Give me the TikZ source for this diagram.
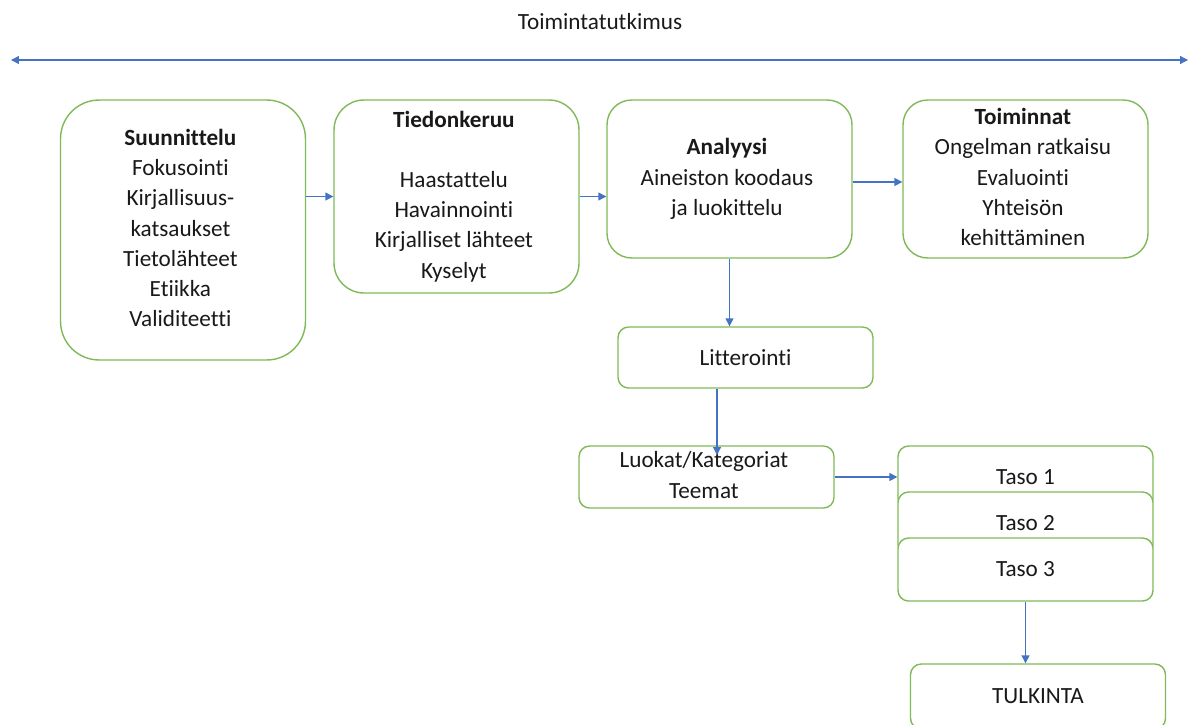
\documentclass[tikz,border=0pt]{standalone}
\usepackage{fontspec}
\setmainfont{Carlito}[Ligatures=NoCommon]
\usepackage{xcolor}
\usepackage{tikz}
\usetikzlibrary{arrows.meta, positioning, calc}
\definecolor{boxgreen}{RGB}{128, 186, 88}
\definecolor{flowblue}{RGB}{68, 114, 196}
\definecolor{textdark}{RGB}{25, 25, 25}

\tikzset{
    stage/.style={draw=boxgreen, fill=white, line width=0.8pt, text=textdark,
        minimum width=4.9cm, align=center, inner sep=0pt,
        font=\fontsize{13.2}{17.2}\selectfont},
    smallbox/.style={stage, minimum width=5.1cm, minimum height=1.24cm, rounded corners=6pt},
    flow/.style={draw=flowblue, line width=0.7pt, -{Triangle[length=4.5pt, width=4.5pt]}}
}

\begin{document}
\begin{tikzpicture}[x=0.02cm, y=-0.02cm]
        \useasboundingbox (0,0) rectangle (1192,724);

        \node[text=textdark, font=\fontsize{13.2}{17.2}\selectfont] (title) at (600,22) {Toimintatutkimus};
        \coordinate (spanL) at (11,60);
        \coordinate (spanR) at (1188,60);
        \draw[flow, {Triangle[length=4.5pt, width=4.5pt]}-{Triangle[length=4.5pt, width=4.5pt]}] (spanL) -- (spanR);

        \node[stage, minimum height=5.2cm, rounded corners=22pt] (suun) at (183,230) {
            \begin{tabular}{c}
                \textbf{Suunnittelu}\\
                Fokusointi\\
                Kirjallisuus-\\
                katsaukset\\
                Tietolähteet\\
                Etiikka\\
                Validiteetti
            \end{tabular}
        };
        \node[stage, minimum height=3.86cm, rounded corners=17pt] (tied) at (456.5,196.5) {
            \begin{tabular}{c}
                \textbf{Tiedonkeruu}\\
                \\
                Haastattelu\\
                Havainnointi\\
                Kirjalliset lähteet\\
                Kyselyt
            \end{tabular}
        };
        \node[stage, minimum height=3.16cm, rounded corners=14pt] (ana) at (729.5,179) {
            \begin{tabular}{c}
                \textbf{Analyysi}\\
                Aineiston koodaus\\
                ja luokittelu
            \end{tabular}
        };
        \node[stage, minimum height=3.16cm, rounded corners=14pt] (toim) at (1025.5,179) {
            \begin{tabular}{c}
                \textbf{Toiminnat}\\
                Ongelman ratkaisu\\
                Evaluointi\\
                Yhteisön\\
                kehittäminen
            \end{tabular}
        };

        \node[smallbox, minimum height=1.22cm] (litt) at (745.5,357.5) {Litterointi};
        \node[smallbox] (luok) at (706.5,477) {
            \begin{tabular}{c}
                Luokat/Kategoriat\\
                Teemat
            \end{tabular}
        };
        \node[smallbox, minimum height=1.26cm] (taso1) at (1025.5,477.5) {Taso 1};
        \node[smallbox, minimum height=1.26cm] (taso2) at (1025.5,523.5) {Taso 2};
        \node[smallbox, minimum height=1.26cm] (taso3) at (1025.5,569.5) {Taso 3};
        \node[smallbox, minimum height=1.3cm] (tulk) at (1038,696.5) {TULKINTA};

        \coordinate (littIn) at (717,455);
        \draw[flow] (suun.east |- tied.west) -- (tied.west);
        \draw[flow] (tied.east) -- (ana.west |- tied.east);
        \draw[flow] ($(ana.east)+(0,3)$) -- ($(toim.west)+(0,3)$);
        \draw[flow] (ana.south) -- (ana.south |- litt.north);
        \draw[flow] (littIn |- litt.south) -- (littIn);
        \draw[flow] (luok.east) -- (luok.east -| taso1.west);
        \draw[flow] (taso3.south) -- (taso3.south |- tulk.north);
    \end{tikzpicture}
\end{document}
